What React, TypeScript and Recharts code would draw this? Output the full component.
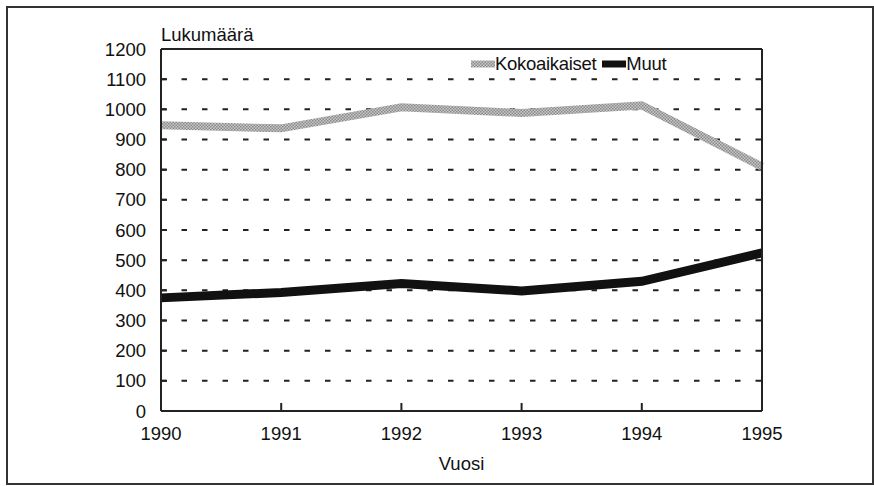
import { LineChart, Line, XAxis, YAxis, CartesianGrid, Legend } from 'recharts'

const years = ['1990', '1991', '1992', '1993', '1994', '1995']
const kokoaikaiset = [947, 937, 1007, 988, 1013, 810]
const muut = [375, 393, 423, 398, 430, 524]
const yTicks = [0, 100, 200, 300, 400, 500, 600, 700, 800, 900, 1000, 1100, 1200]

const data = years.map((y, i) => ({ vuosi: y, Kokoaikaiset: kokoaikaiset[i], Muut: muut[i] }))

const font = '"Liberation Sans", Arial, sans-serif'

function LegendContent () {
  const item = (label: string, stroke: string, gap: number) => (
    <span style={{ display: 'inline-flex', alignItems: 'center', marginRight: gap }}>
      <svg width={24} height={8}>
        <line x1={0} y1={4} x2={24} y2={4} stroke={stroke} strokeWidth={7} />
      </svg>
      <span>{label}</span>
    </span>
  )
  return (
    <div style={{ fontFamily: font, fontSize: 18.5, color: '#111', whiteSpace: 'nowrap', letterSpacing: -0.3 }}>
      {item('Kokoaikaiset', 'url(#hatch)', 6)}
      {item('Muut', '#111', 0)}
    </div>
  )
}

export default function App () {
  return (
    <div style={{ position: 'absolute', left: 0, top: 0, width: 874, height: 486, background: '#fff' }}>
      <div style={{ position: 'absolute', left: 6, top: 6, width: 864, height: 475, border: '2px solid #333' }} />
      <svg width={0} height={0} style={{ position: 'absolute' }}>
        <defs>
          <pattern id="hatch" width={3} height={3} patternUnits="userSpaceOnUse">
            <rect width={3} height={3} fill="#c8c8c8" />
            <rect width={1.5} height={1.5} fill="#8a8a8a" />
            <rect x={1.5} y={1.5} width={1.5} height={1.5} fill="#8a8a8a" />
          </pattern>
        </defs>
      </svg>
      <LineChart
        width={874}
        height={486}
        data={data}
        margin={{ top: 48, right: 111, bottom: 45, left: 101 }}
        style={{ position: 'absolute', left: 0, top: 0, fontFamily: font }}
      >
        <CartesianGrid
          vertical={false}
          horizontalValues={yTicks.slice(1, 12)}
          stroke="#222"
          strokeWidth={2}
          strokeDasharray="5.5 15"
        />
        <XAxis
          dataKey="vuosi"
          padding={{ left: 0, right: 0 }}
          height={30}
          interval={0}
          stroke="#222"
          strokeWidth={2}
          tickSize={-8}
          tickMargin={24}
          tick={{ fill: '#111', fontSize: 18.5 }}
          label={{ value: 'Vuosi', position: 'bottom', offset: 16, fill: '#111', fontSize: 18.5 }}
        />
        <XAxis
          xAxisId="top"
          dataKey="vuosi"
          orientation="top"
          height={1}
          interval={0}
          stroke="#222"
          strokeWidth={2}
          tick={false}
          tickLine={false}
        />
        <YAxis
          domain={[0, 1200]}
          ticks={yTicks}
          width={60}
          interval={0}
          stroke="#222"
          strokeWidth={2}
          tickSize={-6}
          tickMargin={21}
          tick={{ fill: '#111', fontSize: 18.5 }}
          label={{
            value: 'Lukumäärä',
            content: ({ viewBox }: any) => (
              <text x={viewBox.x + viewBox.width} y={viewBox.y - 8} fill="#111" fontSize={18.5} fontFamily={font}>
                Lukumäärä
              </text>
            )
          }}
        />
        <YAxis
          yAxisId="right"
          orientation="right"
          domain={[0, 1200]}
          ticks={yTicks}
          width={1}
          interval={0}
          stroke="#222"
          strokeWidth={2}
          tickSize={-4}
          tick={false}
        />
        <Legend
          layout="horizontal"
          verticalAlign="middle"
          align="center"
          content={<LegendContent />}
          wrapperStyle={{ position: 'absolute', left: 471, top: 51, right: 'auto', bottom: 'auto', width: 'auto' }}
        />
        <Line
          type="linear"
          dataKey="Kokoaikaiset"
          stroke="url(#hatch)"
          strokeWidth={8}
          dot={false}
          isAnimationActive={false}
        />
        <Line
          type="linear"
          dataKey="Muut"
          stroke="#111"
          strokeWidth={9}
          dot={false}
          isAnimationActive={false}
        />
      </LineChart>
    </div>
  )
}
